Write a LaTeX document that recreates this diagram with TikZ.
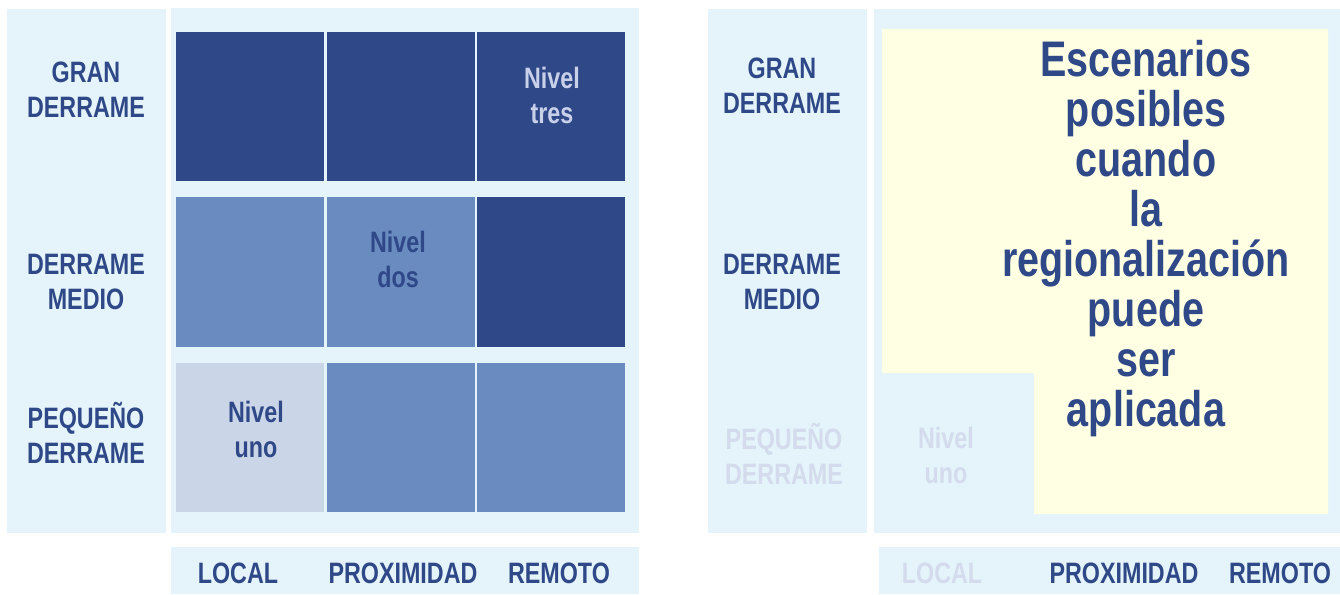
\documentclass[tikz,border=0pt]{standalone}
\usepackage{fontspec}
\setmainfont{Liberation Sans}[FakeStretch=0.79]
\definecolor{dk}{HTML}{2F4887}
\definecolor{md}{HTML}{6A8BC0}
\definecolor{lt}{HTML}{CBD5E8}
\definecolor{bgc}{HTML}{E4F4FA}
\definecolor{yl}{HTML}{FFFFE3}
\definecolor{fd}{HTML}{D3DBEC}
\definecolor{lav}{HTML}{C8D0EA}
\tikzset{
  lbl/.style={font=\bfseries\fontsize{29.5}{35}\selectfont, align=center, text=dk, inner sep=0pt},
  big/.style={font=\bfseries\fontsize{50}{50}\selectfont, align=center, text=dk, inner sep=0pt},
}
\begin{document}
\begin{tikzpicture}[x=1pt,y=-1pt]
\useasboundingbox (0,0) rectangle (1340,594);
% ---------- left panel ----------
\fill[bgc] (7,9) rectangle (166,533);
\fill[bgc] (171,8) rectangle (639,533);
\fill[bgc] (171,547) rectangle (639,594);
% row 1
\fill[dk] (176,32) rectangle (324,181);
\fill[dk] (327,32) rectangle (475,181);
\fill[dk] (477,32) rectangle (625,181);
% row 2
\fill[md] (176,197) rectangle (324,347);
\fill[md] (327,197) rectangle (475,347);
\fill[dk] (477,197) rectangle (625,347);
% row 3
\fill[lt] (176,363) rectangle (324,512);
\fill[md] (327,363) rectangle (475,512);
\fill[md] (477,363) rectangle (625,512);

\node[lbl] (lg) at (86,89.5) {GRAN\\DERRAME};
\node[lbl] (lm) at (86,282) {DERRAME\\MEDIO};
\node[lbl] (lp) at (86,433) {PEQUEÑO\\DERRAME};
\node[lbl, text=lav] (n3) at (552,95) {Nivel\\tres};
\node[lbl] (n2) at (398,259) {Nivel\\dos};
\node[lbl] (n1) at (256,429) {Nivel\\uno};
\node[lbl] (bl) at (238,573) {LOCAL};
\node[lbl] (bp) at (403,573) {PROXIMIDAD};
\node[lbl] (br) at (559,573) {REMOTO};

% ---------- right panel ----------
\fill[bgc] (708,9) rectangle (867,533);
\fill[bgc] (874,9) rectangle (1340,533);
\fill[bgc] (879,547) rectangle (1340,594);
\fill[yl] (882,29) -- (1328,29) -- (1328,514) -- (1034,514) -- (1034,373) -- (882,373) -- cycle;

\node[lbl] (rg) at (782,85.5) {GRAN\\DERRAME};
\node[lbl] (rm) at (782,282) {DERRAME\\MEDIO};
\node[lbl, text=fd] (rp) at (784,454) {PEQUEÑO\\DERRAME};
\node[lbl, text=fd] (rn1) at (946,455) {Nivel\\uno};
\node[lbl, text=fd] (rbl) at (942,573) {LOCAL};
\node[lbl] (rbp) at (1124,573) {PROXIMIDAD};
\node[lbl] (rbr) at (1280,573) {REMOTO};
\node[big] (esc) at (1146,239) {Escenarios\\posibles\\cuando\\la\\regionalización\\puede\\ser\\aplicada};
\end{tikzpicture}
\end{document}
